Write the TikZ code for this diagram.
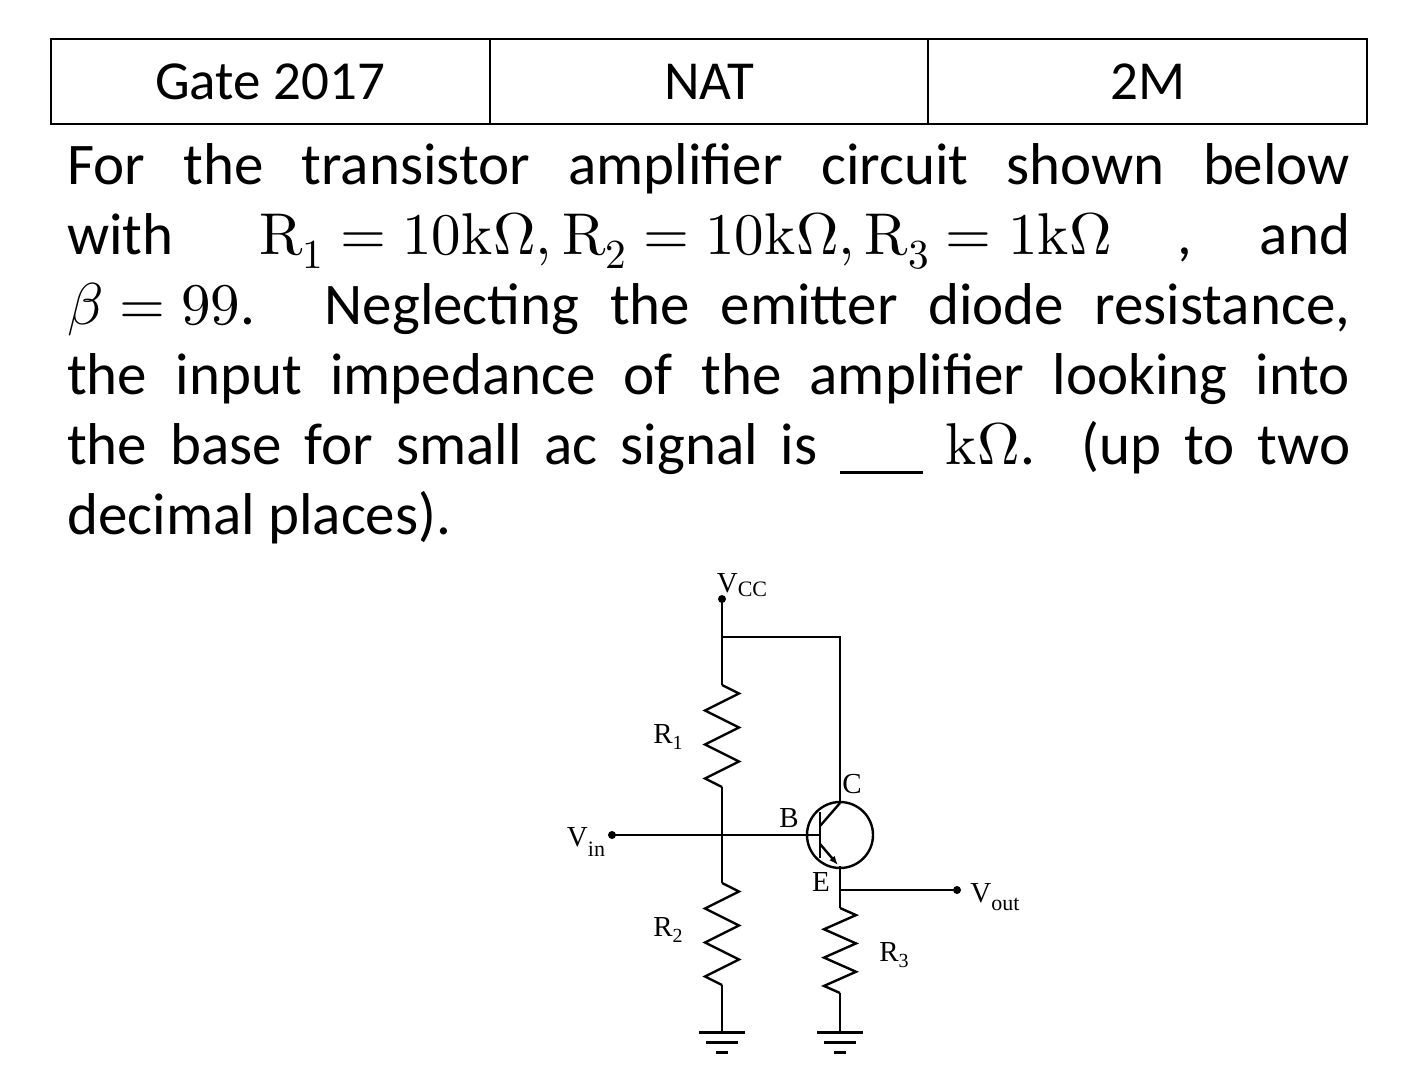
\documentclass[tikz,border=0pt]{standalone}
\usepackage{fontspec}
\usepackage{unicode-math}
\setmainfont{Carlito}
\setmathfont{Latin Modern Math}
\newfontfamily\ckt{Liberation Serif}
\usetikzlibrary{arrows.meta}
\newcommand{\myzig}[4]{% x, ytop, ybottom, halfwidth
  \draw[wire] (#1,#2) \foreach \k/\s in {1/1,3/-1,5/1,7/-1,9/1,11/-1}{ -- ({#1+\s*#4},{#2+(#3-#2)*\k/12})} -- (#1,#3);}
\newcommand{\myground}[2]{%
  \draw[gnd] (#1-23,#2) -- (#1+23,#2) (#1-16,#2+10) -- (#1+16,#2+10) (#1-6,#2+20) -- (#1+6,#2+20);}
\begin{document}
\begin{tikzpicture}[x=1pt,y=-1pt,
  wire/.style={line width=2.4pt,line join=miter},
  gnd/.style={line width=3pt},
  dotn/.style={circle,fill,inner sep=0pt,minimum size=8pt},
  lab/.style={font=\ckt\fontsize{29}{32}\selectfont,inner sep=0pt}]
\useasboundingbox (0,0) rectangle (1418,1085);
% table
\draw[line width=1.8pt] (51,39) rectangle (1367,124) (490,39) -- (490,124) (928,39) -- (928,124);
\node[font=\fontsize{55}{60}\selectfont] (t1) at (270,82) {Gate 2017};
\node[font=\fontsize{55}{60}\selectfont] (t2) at (709,82) {NAT};
\node[font=\fontsize{55}{60}\selectfont] (t3) at (1148,82) {2M};
% paragraph
\node[anchor=north west,inner sep=0pt,text width=1283pt,align=justify,font=\fontsize{59}{70}\selectfont] (par) at (67,143)
{For the transistor amplifier circuit shown below\linebreak
with\hspace{1.45em}\mbox{$\symup{R}_1=10\symup{k}\Omega,\symup{R}_2=10\symup{k}\Omega,\symup{R}_3=1\symup{k}\Omega$}\hspace{1.1em},\hfill and\linebreak
\mbox{$\beta=99$}. Neglecting the emitter diode resistance,\linebreak
the input impedance of the amplifier looking into\linebreak
the base for small ac signal is \underline{\hspace{1.4em}} \mbox{$\symup{k}\Omega$}. (up to two\linebreak
decimal places).};
% circuit
\coordinate (vccp) at (722,599);
\coordinate (top) at (722,637);
\coordinate (topr) at (840,637);
\node[dotn] (vcc) at (vccp) {};
\node[dotn] (vin) at (612,835) {};
\node[dotn] (vout) at (957,890) {};
\draw[wire] (vcc.center) -- (top) -- (722,685);
\myzig{722}{685}{787}{17}
\draw[wire] (722,787) -- (722,883);
\myzig{722}{883}{985}{17}
\draw[wire] (722,985) -- (722,1032);
\myground{722}{1032}
\draw[wire] (vin.center) -- (820,835);
\draw[wire] (top) -- (topr) -- (840,803);
\node[draw,circle,line width=2.4pt,minimum size=66pt,inner sep=0pt] (q) at (840,835) {};
\draw[wire] (820,812) -- (820,858);
\draw[wire] (820,826) -- (840,803);
\draw[line width=2.4pt,-{Latex[length=9pt,width=7pt]}] (820,844) -- (838,865);
\draw[wire] (840,866) -- (840,908);
\draw[wire] (840,890) -- (vout.center);
\myzig{840}{908}{993}{16}
\draw[wire] (840,993) -- (840,1032);
\myground{840}{1032}
% labels
\node[lab] (lvcc) at (742,585) {V\raisebox{-0.3ex}{\fontsize{22}{24}\selectfont CC}};
\node[lab] (lr1) at (668,737) {R\raisebox{-0.4ex}{\fontsize{20}{22}\selectfont 1}};
\node[lab] (lr2) at (668,930) {R\raisebox{-0.4ex}{\fontsize{20}{22}\selectfont 2}};
\node[lab] (lr3) at (894,955) {R\raisebox{-0.4ex}{\fontsize{20}{22}\selectfont 3}};
\node[lab] (lb) at (789,818) {B};
\node[lab] (lc) at (852,784) {C};
\node[lab] (le) at (821,882) {E};
\node[lab] (lvin) at (586,842) {V\raisebox{-0.7ex}{\fontsize{22}{24}\selectfont in}};
\node[lab] (lvout) at (995,897) {V\raisebox{-0.6ex}{\fontsize{22}{24}\selectfont out}};
\end{tikzpicture}
\end{document}
